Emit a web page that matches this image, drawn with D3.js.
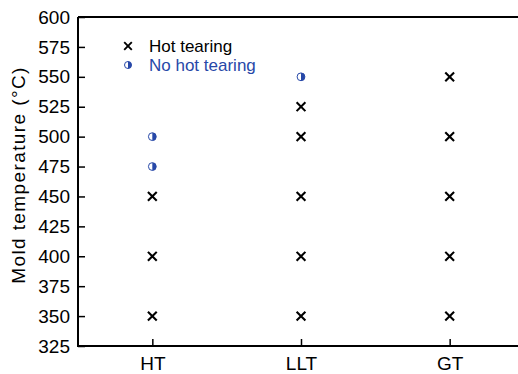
<!DOCTYPE html>
<html>
<head>
<meta charset="utf-8">
<script src="https://cdn.jsdelivr.net/npm/d3@7"></script>
<style>
  html, body { margin: 0; padding: 0; background: #fff; }
  svg { display: block; font-family: "Liberation Sans", Arial, sans-serif; }
</style>
</head>
<body>
<svg id="chart" width="518" height="374"></svg>
<script>
// Casting conditions and mold temperatures tested
const categories = ["HT", "LLT", "GT"];
const yTicks = [325, 350, 375, 400, 425, 450, 475, 500, 525, 550, 575, 600];

// Mold temperatures (°C) where hot tearing occurred
const hotTearing = {
  HT:  [350, 400, 450],
  LLT: [350, 400, 450, 500, 525],
  GT:  [350, 400, 450, 500, 550]
};
// Mold temperatures (°C) without hot tearing
const noHotTearing = {
  HT:  [475, 500],
  LLT: [550],
  GT:  []
};

const blue = "#2748a8";
const font = "Liberation Sans, Arial, sans-serif";
const svg = d3.select("#chart");
const margin = { left: 78, top: 17, bottom: 346, right: 524 };

const x = d3.scalePoint().domain(categories).range([margin.left, margin.right]).padding(0.5);
const y = d3.scaleLinear().domain([325, 600]).range([margin.bottom, margin.top]);

// frame: left axis, bottom axis, top border
const frame = svg.append("g").attr("stroke", "#000").attr("stroke-width", 2).attr("fill", "none");
frame.append("path").attr("d", `M${margin.left},${margin.top}V${margin.bottom}H518`);
frame.append("path").attr("d", `M${margin.left},${margin.top}H518`);

// y axis with inward ticks
const yAxis = svg.append("g")
  .attr("transform", `translate(${margin.left},0)`)
  .call(d3.axisRight(y).tickValues(yTicks).tickSize(7).tickFormat(d3.format("d")));
yAxis.select(".domain").remove();
yAxis.selectAll(".tick line").attr("stroke", "#000").attr("stroke-width", 1.5);
yAxis.selectAll(".tick text")
  .attr("x", -8).attr("text-anchor", "end")
  .attr("font-size", 19).attr("fill", "#000")
  .attr("font-family", font);

// x axis with inward ticks
const xAxis = svg.append("g")
  .attr("transform", `translate(0,${margin.bottom})`)
  .call(d3.axisTop(x).tickSize(7));
xAxis.select(".domain").remove();
xAxis.selectAll(".tick line").attr("stroke", "#000").attr("stroke-width", 1.5);
xAxis.selectAll(".tick text")
  .attr("y", 17).attr("dy", "0.35em")
  .attr("font-size", 19).attr("fill", "#000")
  .attr("font-family", font);

// y axis title
svg.append("text")
  .attr("transform", `translate(25,175) rotate(-90)`)
  .attr("text-anchor", "middle")
  .attr("font-size", 19)
  .attr("letter-spacing", 1.4)
  .text("Mold temperature (°C)");

// marker drawers
function cross(g, cx, cy, s, w) {
  g.append("path")
    .attr("d", `M${cx - s},${cy - s}L${cx + s},${cy + s}M${cx - s},${cy + s}L${cx + s},${cy - s}`)
    .attr("stroke", "#000").attr("stroke-width", w).attr("fill", "none");
}
function halfCircle(g, cx, cy, r) {
  g.append("circle").attr("cx", cx).attr("cy", cy).attr("r", r)
    .attr("fill", "#fff").attr("stroke", blue).attr("stroke-width", 1);
  g.append("path")
    .attr("d", `M${cx},${cy - r}A${r},${r} 0 0 1 ${cx},${cy + r}Z`)
    .attr("fill", blue);
}

const marks = svg.append("g");
categories.forEach(c => {
  hotTearing[c].forEach(v => cross(marks, x(c), y(v), 4.4, 2.1));
  noHotTearing[c].forEach(v => halfCircle(marks, x(c), y(v), 3.9));
});

// legend
const legend = svg.append("g");
cross(legend, 128, 46, 3.8, 1.9);
legend.append("text").attr("x", 149).attr("y", 46).attr("dy", "0.35em")
  .attr("font-size", 17).attr("fill", "#000").text("Hot tearing");
halfCircle(legend, 128, 65, 3.5);
legend.append("text").attr("x", 149).attr("y", 65).attr("dy", "0.35em")
  .attr("font-size", 17).attr("fill", blue).text("No hot tearing");
</script>
</body>
</html>
